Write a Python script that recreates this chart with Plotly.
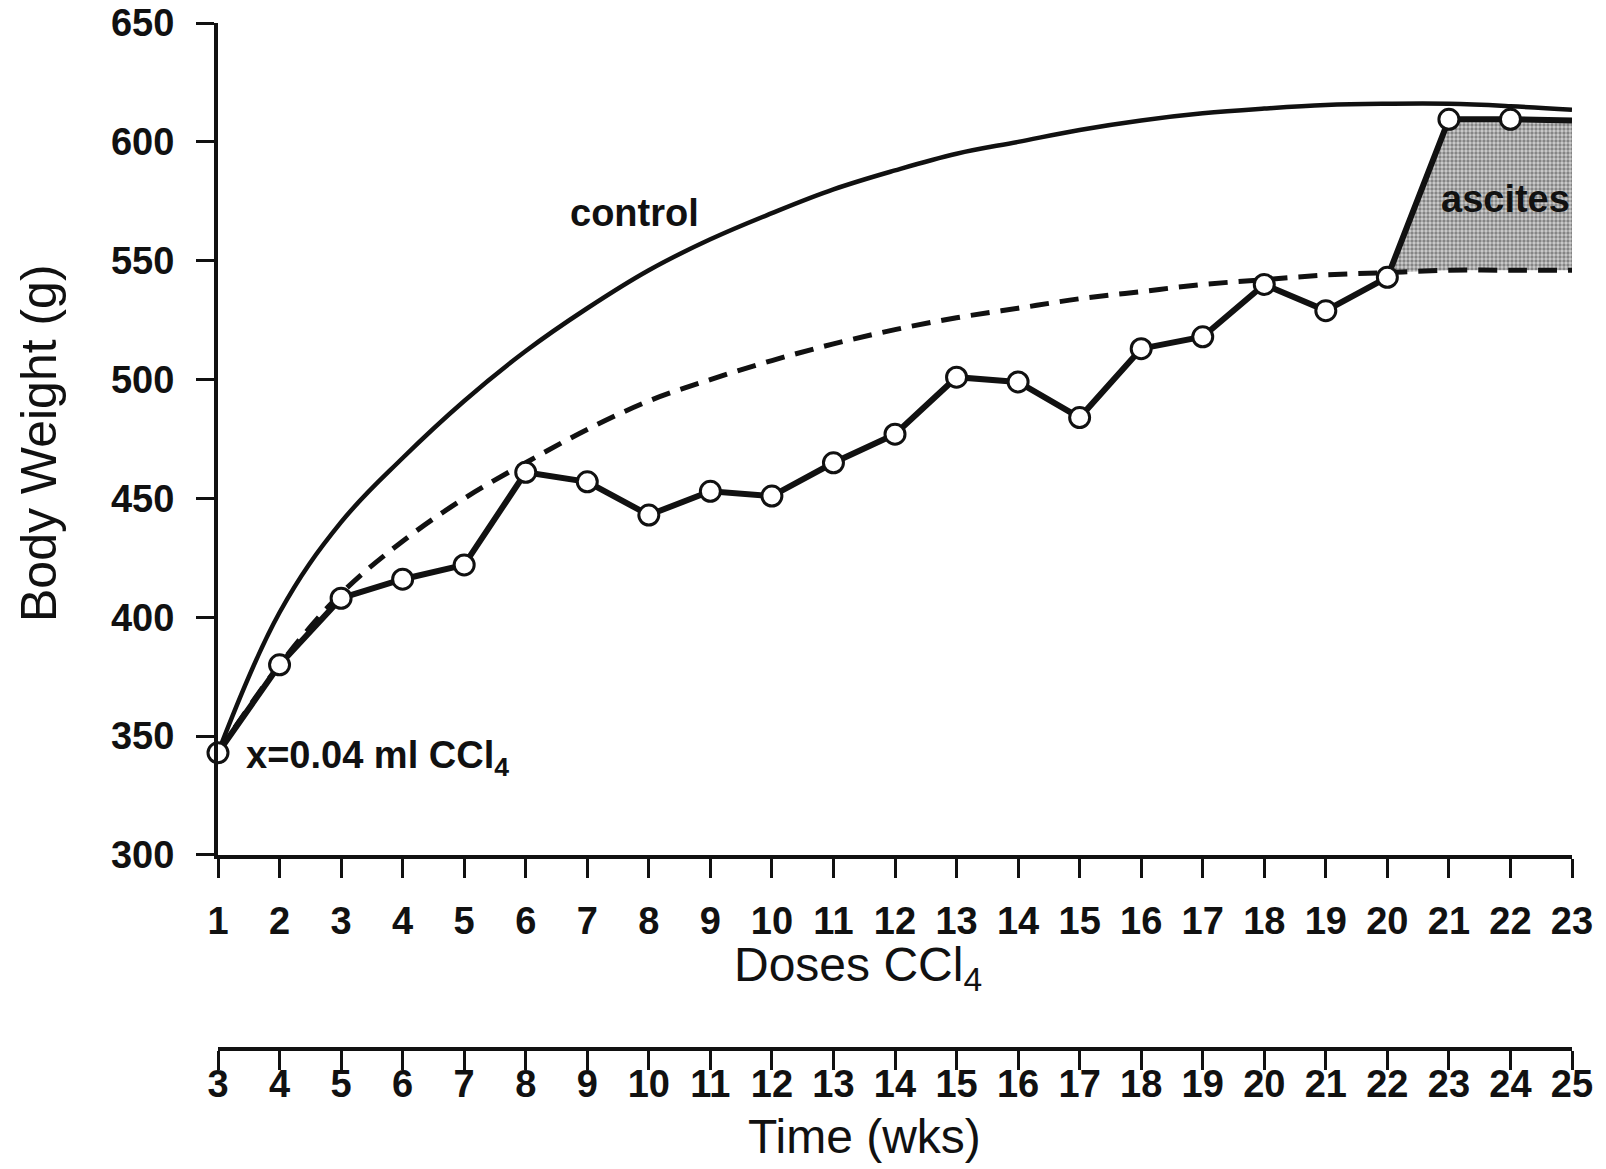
import numpy as np
import plotly.graph_objects as go

# ---- data ----
doses = list(range(1, 23))
body_weight = [343, 380, 408, 416, 422, 461, 457, 443, 453, 451, 465, 477,
               501, 499, 484, 513, 518, 540, 529, 543, 609.5, 609.5]
end_dose = [22, 23]
end_weight = [609.5, 609]

curve_doses = list(range(1, 24))
control = [343, 402, 440, 467, 491, 512, 530, 546, 559, 570, 580, 588,
           595, 600, 605, 609, 612, 614, 615.5, 616, 616, 615, 613.5]
expected = [343, 380, 410, 432, 450, 465, 479, 491, 500, 508, 515, 521,
            526, 530, 534, 537, 540, 542, 544, 545, 546, 546, 546]

dose_ticks = list(range(1, 24))
week_ticks = list(range(3, 26))
y_ticks = [300, 350, 400, 450, 500, 550, 600, 650]

# ---- ascites region: between measured weight and expected curve, dose 20..23 ----
d20 = body_weight[19]; d21 = body_weight[20]
e20 = expected[19]; e21 = expected[20]
t = (e20 - d20) / ((d21 - d20) - (e21 - e20))
x_cross = 20 + t
y_cross = e20 + t * (e21 - e20)
fill_top_x = [x_cross, 21, 22, 23]
fill_top_y = [y_cross, body_weight[20], body_weight[21], end_weight[1]]
fill_base_x = [x_cross, 21, 22, 23]
fill_base_y = [y_cross, expected[20], expected[21], expected[22]]

BLACK = "#111111"
FONT = "Liberation Sans, Arial, sans-serif"

fig = go.Figure()

fig.add_trace(go.Scatter(x=fill_base_x, y=fill_base_y, mode="lines",
                         line=dict(width=0), showlegend=False, hoverinfo="skip"))
fig.add_trace(go.Scatter(x=fill_top_x, y=fill_top_y, mode="lines",
                         line=dict(width=0), fill="tonexty",
                         fillcolor="#bdbdbd",
                         fillpattern=dict(shape=".", fgcolor="#3a3a3a", bgcolor="#cfcfcf",
                                          size=4, solidity=0.55),
                         showlegend=False, hoverinfo="skip"))

fig.add_trace(go.Scatter(x=curve_doses, y=control, mode="lines",
                         line=dict(color=BLACK, width=4.5, shape="spline", smoothing=1.1),
                         showlegend=False, cliponaxis=False))
fig.add_trace(go.Scatter(x=curve_doses, y=expected, mode="lines",
                         line=dict(color=BLACK, width=5, shape="spline", smoothing=1.0,
                                   dash="19px,11px"),
                         showlegend=False, cliponaxis=False))
fig.add_trace(go.Scatter(x=end_dose, y=end_weight, mode="lines",
                         line=dict(color=BLACK, width=6),
                         showlegend=False, cliponaxis=False))
fig.add_trace(go.Scatter(x=doses, y=body_weight, mode="lines+markers",
                         line=dict(color=BLACK, width=6),
                         marker=dict(size=20, color="white",
                                     line=dict(color=BLACK, width=3)),
                         showlegend=False, cliponaxis=False))
# invisible trace to carry the time axis
fig.add_trace(go.Scatter(x=[week_ticks[0], week_ticks[-1]], y=[300, 300], xaxis="x2",
                         mode="markers", marker=dict(opacity=0), showlegend=False,
                         hoverinfo="skip"))

tickfont = dict(family=FONT, size=38, color=BLACK, weight="bold")

fig.update_layout(
    width=1606, height=1169,
    margin=dict(l=218, r=34, t=23, b=50, autoexpand=False),
    plot_bgcolor="white", paper_bgcolor="white",
    xaxis=dict(range=[1, 23], tickvals=dose_ticks, ticks="outside", ticklen=19,
               tickwidth=3, tickcolor=BLACK, showline=True, linewidth=4,
               linecolor=BLACK, showgrid=False, zeroline=False, automargin=False,
               tickfont=tickfont, ticklabelstandoff=10, anchor="y"),
    yaxis=dict(range=[300, 650], tickvals=y_ticks, ticks="outside", ticklen=18,
               tickwidth=3, tickcolor=BLACK, showline=True, linewidth=4,
               linecolor=BLACK, showgrid=False, zeroline=False, automargin=False,
               tickfont=tickfont, ticklabelstandoff=14, domain=[0.2409, 1]),
    xaxis2=dict(range=[3, 25], tickvals=week_ticks, overlaying="x", anchor="free",
                position=0.064, side="bottom", ticks="outside", ticklen=19,
                tickwidth=3, tickcolor=BLACK, showline=True, linewidth=4,
                linecolor=BLACK, showgrid=False, zeroline=False, automargin=False,
                tickfont=tickfont, ticklabelstandoff=-18),
    annotations=[
        dict(text="Doses CCl<sub>4</sub>", xref="paper", yref="paper",
             x=0.4727, y=0.1378, xanchor="center", yanchor="middle", showarrow=False,
             font=dict(family=FONT, size=48, color=BLACK)),
        dict(text="Time (wks)", xref="paper", yref="paper",
             x=0.4778, y=-0.0164, xanchor="center", yanchor="middle", showarrow=False,
             font=dict(family=FONT, size=48, color=BLACK)),
        dict(text="Body Weight (g)", xref="paper", yref="paper",
             x=-0.1322, y=0.6168, xanchor="center", yanchor="middle",
             showarrow=False, textangle=-90,
             font=dict(family=FONT, size=50, color=BLACK)),
        dict(text="control", x=7.77, y=570, xref="x", yref="y", showarrow=False,
             font=dict(family=FONT, size=38, color=BLACK, weight="bold")),
        dict(text="ascites", x=21.92, y=576, xref="x", yref="y", showarrow=False,
             font=dict(family=FONT, size=38, color=BLACK, weight="bold")),
        dict(text="x=0.04 ml CCl<sub>4</sub>", x=1.42, y=341, xref="x", yref="y",
             xanchor="left", showarrow=False,
             font=dict(family=FONT, size=38, color=BLACK, weight="bold")),
    ],
)

fig.write_html("out.html")
